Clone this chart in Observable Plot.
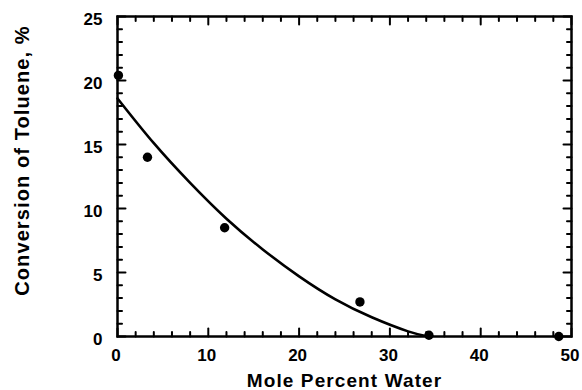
<!DOCTYPE html>
<html>
<head>
<meta charset="utf-8">
<script src="https://cdn.jsdelivr.net/npm/d3@7"></script>
<script src="https://cdn.jsdelivr.net/npm/@observablehq/plot@0.6"></script>
<style>
  html, body { margin: 0; padding: 0; background: #fff; }
  .ttl text { letter-spacing: 1.1px; }
</style>
</head>
<body>
<div id="chart"></div>
<script>
// Measured data points
const waterPct = [0.1, 3.3, 11.8, 26.7, 34.3, 48.6];
const conversion = [20.4, 14.0, 8.5, 2.7, 0.1, 0.0];

// Fitted curve
const fitX = [0, 4, 8, 12, 16, 20, 24, 28, 32, 34.2];
const fitY = [18.6, 15.1, 12.0, 9.2, 6.8, 4.7, 2.9, 1.5, 0.4, 0.0];

// Tick values
const xMajor = [0, 10, 20, 30, 40, 50];
const xMinor = [2, 4, 6, 8, 12, 14, 16, 18, 22, 24, 26, 28, 32, 34, 36, 38, 42, 44, 46, 48];
const yMajor = [0, 5, 10, 15, 20, 25];
const yMinor = [1, 2, 3, 4, 6, 7, 8, 9, 11, 12, 13, 14, 16, 17, 18, 19, 21, 22, 23, 24];

const xLabel = "Mole Percent Water";
const yLabel = "Conversion of Toluene, %";

const points = waterPct.map((x, i) => ({x, y: conversion[i]}));
const fit = fitX.map((x, i) => ({x, y: fitY[i]}));

const tickShape = {draw(ctx, l) { ctx.moveTo(0, 0); ctx.lineTo(0, -l); }};
const tk = {shape: tickShape, anchor: "start", stroke: "black", strokeWidth: 2};

const chart = Plot.plot({
  width: 582,
  height: 390,
  marginLeft: 117,
  marginRight: 11,
  marginTop: 16,
  marginBottom: 54,
  style: {fontFamily: "'Liberation Sans', Arial, sans-serif", fontWeight: "bold", fontSize: "17px", color: "black", background: "white"},
  x: {domain: [0, 50]},
  y: {domain: [0, 25]},
  marks: [
    Plot.axisX(xMajor, {tickSize: 0, tickPadding: 12, label: null, fontSize: 17, dx: -1.5}),
    Plot.axisY(yMajor, {tickSize: 0, tickPadding: 15, label: null, fontSize: 17, dy: 3}),
    // inward ticks on four sides
    Plot.vectorX(xMajor, {x: d => d, frameAnchor: "bottom", length: 8, rotate: 0, ...tk}),
    Plot.vectorX(xMinor, {x: d => d, frameAnchor: "bottom", length: 4.5, rotate: 0, ...tk}),
    Plot.vectorX(xMajor, {x: d => d, frameAnchor: "top", length: 8, rotate: 180, ...tk}),
    Plot.vectorX(xMinor, {x: d => d, frameAnchor: "top", length: 4.5, rotate: 180, ...tk}),
    Plot.vectorY(yMajor, {y: d => d, frameAnchor: "left", length: 8, rotate: 90, ...tk}),
    Plot.vectorY(yMinor, {y: d => d, frameAnchor: "left", length: 4.5, rotate: 90, ...tk}),
    Plot.vectorY(yMajor, {y: d => d, frameAnchor: "right", length: 8, rotate: -90, ...tk}),
    Plot.vectorY(yMinor, {y: d => d, frameAnchor: "right", length: 4.5, rotate: -90, ...tk}),
    Plot.frame({stroke: "black", strokeWidth: 2.5}),
    Plot.line(fit, {x: "x", y: "y", curve: "natural", stroke: "black", strokeWidth: 2.6}),
    Plot.dot(points, {x: "x", y: "y", r: 4.7, fill: "black", stroke: "none"}),
    Plot.text([xLabel], {text: d => d, frameAnchor: "bottom", textAnchor: "middle", lineAnchor: "middle", dy: 44.6, fontSize: 19, fontWeight: "bold", fill: "black", className: "ttl"}),
    Plot.text([yLabel], {text: d => d, frameAnchor: "left", textAnchor: "middle", lineAnchor: "middle", dx: -95, dy: -16, rotate: -90, fontSize: 20, fontWeight: "bold", fill: "black", className: "ttl"})
  ]
});
document.getElementById("chart").appendChild(chart);
</script>
</body>
</html>
